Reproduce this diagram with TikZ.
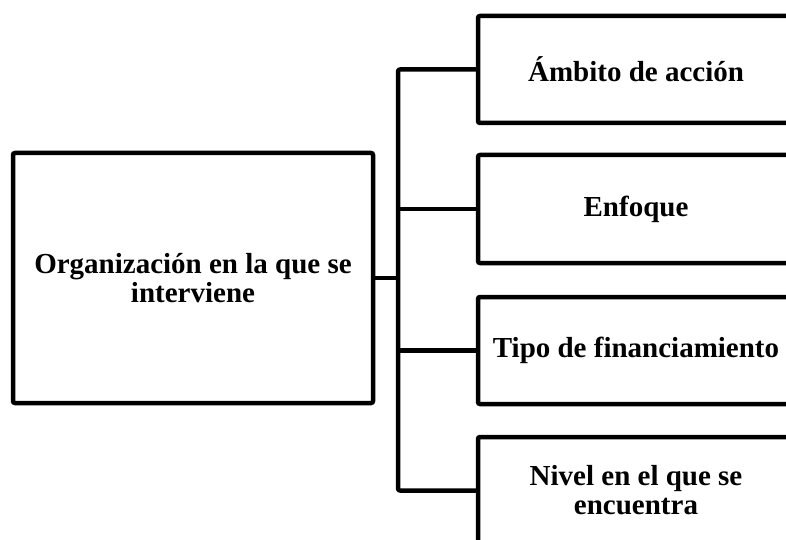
\documentclass[tikz,border=0pt]{standalone}
\usepackage{fontspec}
\setmainfont{Liberation Serif}
\begin{document}
\begin{tikzpicture}[x=1pt,y=-1pt,
  boxstyle/.style={draw=black,line width=4.5pt,rounded corners=2pt,align=center,
    font=\fontsize{29}{29}\selectfont\bfseries,inner sep=0pt},
  conn/.style={line width=4.5pt,line join=round,rounded corners=2pt}]
\useasboundingbox (0,0) rectangle (786,540);
\node[boxstyle,minimum width=360pt,minimum height=250pt] (org) at (193,278) {Organización en la que se\\interviene};
\node[boxstyle,minimum width=316pt,minimum height=107pt] (b1) at (636,69.5) {Ámbito de acción};
\node[boxstyle,minimum width=316pt,minimum height=108pt] (b2) at (636,209) {Enfoque};
\node[boxstyle,minimum width=316pt,minimum height=107pt] (b3) at (636,350.5) {Tipo de financiamiento};
\node[boxstyle,minimum width=316pt,minimum height=107pt] (b4) at (636,490.5) {Nivel en el que se\\encuentra};
\coordinate (t1) at (398,69.5);
\coordinate (t4) at (398,490.5);
\draw[conn] (b1.west) -- (t1) -- (t4) -- (b4.west);
\draw[conn] (org.east) -- (org.east -| t1);
\draw[conn] (b2.west -| t1) -- (b2.west);
\draw[conn] (b3.west -| t1) -- (b3.west);
\end{tikzpicture}
\end{document}
